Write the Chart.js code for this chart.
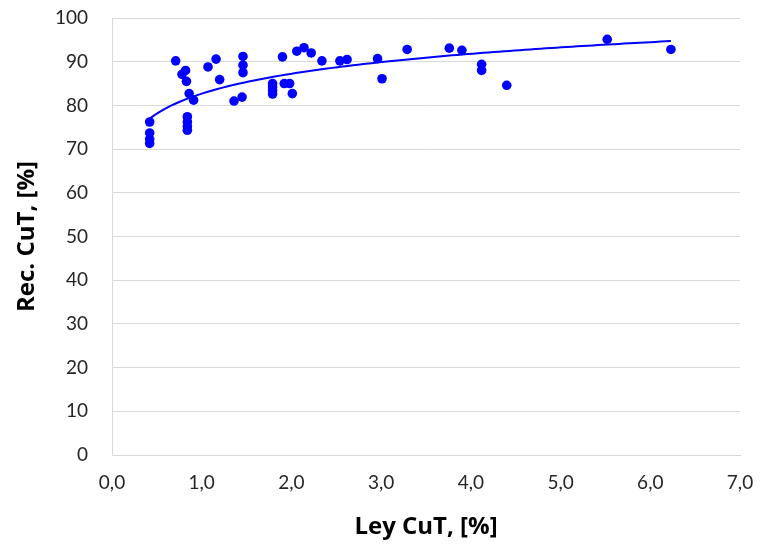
<!DOCTYPE html>
<html>
<head>
<meta charset="utf-8">
<script src="https://cdn.jsdelivr.net/npm/chart.js@4.4.1/dist/chart.umd.min.js"></script>
<style>
  html, body { margin: 0; padding: 0; background: #fff; }
  #wrap { width: 762px; height: 544px; }
</style>
</head>
<body>
<div id="wrap"><canvas id="chart"></canvas></div>
<script>
// ley CuT [%] vs recuperacion CuT [%], one entry per test
const leyCuT = [
  0.42, 0.42, 0.42, 0.42,
  0.71, 0.78, 0.82, 0.83, 0.86, 0.91,
  0.84, 0.84, 0.84, 0.84,
  1.07, 1.16, 1.20, 1.36, 1.45, 1.46, 1.46, 1.46,
  1.79, 1.79, 1.79, 1.79,
  1.90, 1.92, 1.98, 2.01, 2.06, 2.14, 2.22, 2.34,
  2.54, 2.62, 2.96, 3.01, 3.29, 3.76, 3.90, 4.12, 4.12, 4.40,
  5.52, 6.23
];
const recCuT = [
  76.2, 73.7, 72.3, 71.3,
  90.2, 87.1, 88.0, 85.5, 82.7, 81.2,
  77.4, 76.2, 75.2, 74.3,
  88.8, 90.6, 85.9, 81.0, 81.9, 91.2, 89.2, 87.5,
  85.0, 84.2, 83.4, 82.6,
  91.1, 85.0, 85.0, 82.7, 92.4, 93.2, 92.0, 90.2,
  90.2, 90.5, 90.7, 86.1, 92.8, 93.1, 92.6, 89.4, 88.0, 84.6,
  95.1, 92.8
];
const xTicks = [0, 1, 2, 3, 4, 5, 6, 7];
const yTicks = [0, 10, 20, 30, 40, 50, 60, 70, 80, 90, 100];

const points = leyCuT.map((x, i) => ({ x: x, y: recCuT[i] }));

// logarithmic trend line y = a*ln(x) + b, least squares on the points
function logFit(xs, ys) {
  const n = xs.length;
  let sl = 0, sy = 0, sll = 0, sly = 0;
  for (let i = 0; i < n; i++) {
    const l = Math.log(xs[i]);
    sl += l; sy += ys[i]; sll += l * l; sly += l * ys[i];
  }
  const a = (n * sly - sl * sy) / (n * sll - sl * sl);
  const b = (sy - a * sl) / n;
  return { a: a, b: b };
}
const fit = logFit(leyCuT, recCuT);
const xMin = Math.min(...leyCuT), xMax = Math.max(...leyCuT);
const trend = [];
for (let k = 0; k <= 100; k++) {
  const x = xMin + (xMax - xMin) * k / 100;
  trend.push({ x: x, y: fit.a * Math.log(x) + fit.b });
}

const blue = '#0000ff';
const gridCol = '#d9d9d9';
const clear = 'rgba(0,0,0,0)';
const fam = 'Lato, "Open Sans", sans-serif';
const titleFam = '"Open Sans", Lato, sans-serif';

new Chart(document.getElementById('chart'), {
  type: 'scatter',
  data: {
    datasets: [
      {
        label: 'Rec. CuT',
        data: points,
        backgroundColor: blue,
        borderColor: blue,
        pointRadius: 4.8,
        pointHoverRadius: 4.8,
        borderWidth: 0
      },
      {
        label: 'Log. tendencia',
        data: trend,
        showLine: true,
        borderColor: blue,
        borderWidth: 2,
        pointRadius: 0,
        fill: false
      }
    ]
  },
  options: {
    responsive: true,
    maintainAspectRatio: false,
    animation: false,
    layout: { padding: { top: 18, right: 22, left: 0, bottom: 0 } },
    plugins: {
      legend: { display: false },
      tooltip: { enabled: false }
    },
    scales: {
      x: {
        type: 'linear',
        min: 0, max: 7,
        afterBuildTicks: s => { s.ticks = xTicks.map(v => ({ value: v })); },
        afterFit: s => { s.height = 89; },
        // invisible tick marks push the labels down without extra side padding
        grid: { color: clear, drawTicks: true, tickLength: 16, tickColor: clear },
        border: { display: true, color: gridCol, width: 1 },
        ticks: {
          padding: 0,
          color: '#262626',
          font: { family: fam, size: 19 },
          callback: v => v.toFixed(1).replace('.', ',')
        },
        title: {
          display: true,
          text: 'Ley CuT, [%]',
          color: '#000',
          font: { family: titleFam, size: 24, weight: 'bold' },
          padding: { top: 4, bottom: 2 }
        }
      },
      y: {
        min: 0, max: 100,
        afterBuildTicks: s => { s.ticks = yTicks.map(v => ({ value: v })); },
        afterFit: s => { s.width = 112; },
        grid: { color: gridCol, lineWidth: 1, drawTicks: true, tickLength: 24, tickColor: clear },
        border: { display: true, color: gridCol, width: 1 },
        ticks: {
          padding: 0,
          color: '#262626',
          font: { family: fam, size: 19 }
        },
        title: {
          display: true,
          text: 'Rec. CuT, [%]',
          color: '#000',
          font: { family: titleFam, size: 24, weight: 'bold' },
          padding: { top: 13, bottom: 0 }
        }
      }
    }
  }
});
</script>
</body>
</html>
